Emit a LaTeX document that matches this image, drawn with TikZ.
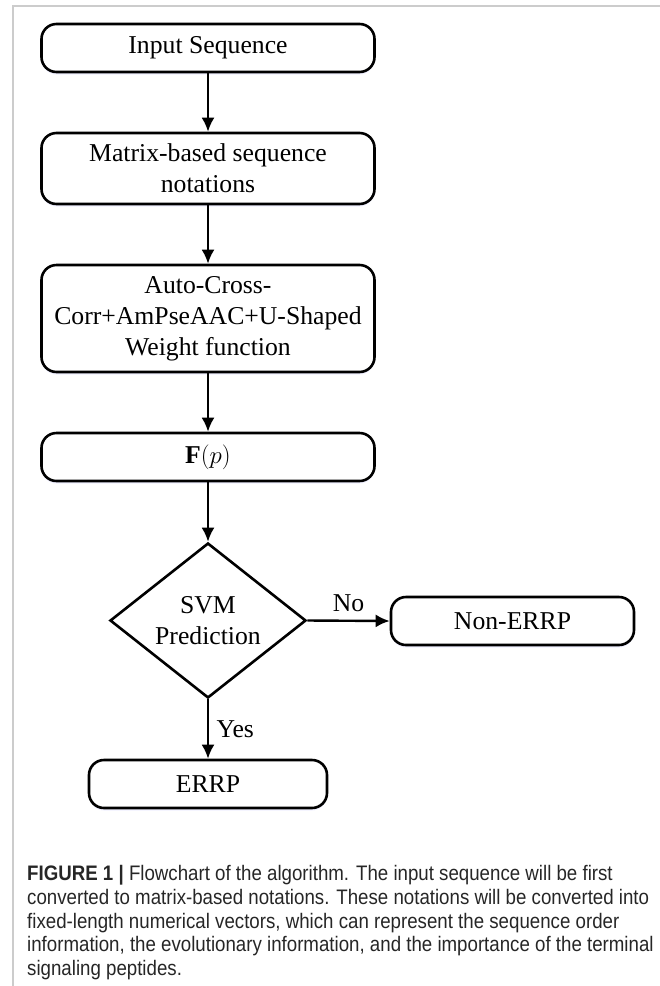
\documentclass[tikz,border=0pt]{standalone}
\usepackage{fontspec}
\setmainfont{Liberation Serif}
\newfontfamily\capfont[FakeStretch=0.89]{Liberation Sans}
\usepackage{tikz}
\usetikzlibrary{arrows.meta,positioning,shapes.geometric,shadows}

\begin{document}
\begin{tikzpicture}[x=1pt,y=-1pt,>={Latex[length=14pt,width=13pt]},
  font=\fontsize{25.7}{31}\selectfont,
  flowbox/.style={draw,line width=2.6pt,rounded corners=15pt,align=center,inner sep=0pt,
    fill=white,drop shadow={shadow xshift=0pt,shadow yshift=-2.5pt,fill=blue!12,opacity=.5}},
  decision/.style={draw,diamond,line width=2.6pt,align=center,inner sep=0pt,aspect=1.26,
    minimum width=196pt,minimum height=155pt},
  flow/.style={->,line width=2.4pt}]
  \useasboundingbox (0,0) rectangle (660,986);
  % cornice
  \draw[gray!40,line width=2pt] (13,986)--(13,6)--(660,6);
  % caselle
  \node[flowbox,minimum width=333pt,minimum height=48pt] (input) at (208,48) {Input Sequence};
  \node[flowbox,minimum width=333pt,minimum height=71pt] (matrix) at (208,168.5) {Matrix-based sequence\\notations};
  \node[flowbox,minimum width=333pt,minimum height=107pt] (feat) at (208,318.5) {Auto-Cross-\\Corr+AmPseAAC+U-Shaped\\Weight function};
  \node[flowbox,minimum width=333pt,minimum height=48pt] (fp) at (208,457) {$\mathbf{F}(p)$};
  \node[decision] (svm) at (208,620.5) {SVM\\Prediction};
  \node[flowbox,minimum width=243pt,minimum height=48pt] (neg) at (512.5,621) {Non-ERRP};
  \node[flowbox,minimum width=238pt,minimum height=48pt] (pos) at (208,784) {ERRP};
  % frecce
  \draw[flow] (input)--(matrix);
  \draw[flow] (matrix)--(feat);
  \draw[flow] (feat)--(fp);
  \draw[flow] (fp)--(svm);
  \draw[flow] (svm.east)--(neg.west) node[midway,above=4pt] {No};
  \draw[flow] (svm.south)--(pos.north) node[midway,right=4pt] {Yes};
  % didascalia
  \node[anchor=north west,inner sep=0pt,align=left,text=black!85,
    font=\capfont\fontsize{21}{23.8}\selectfont] (caption) at (27,865)
    {\textbf{FIGURE 1 |} Flowchart of the algorithm. The input sequence will be first\\
     converted to matrix-based notations. These notations will be converted into\\
     fixed-length numerical vectors, which can represent the sequence order\\
     information, the evolutionary information, and the importance of the terminal\\
     signaling peptides.};
\end{tikzpicture}
\end{document}
